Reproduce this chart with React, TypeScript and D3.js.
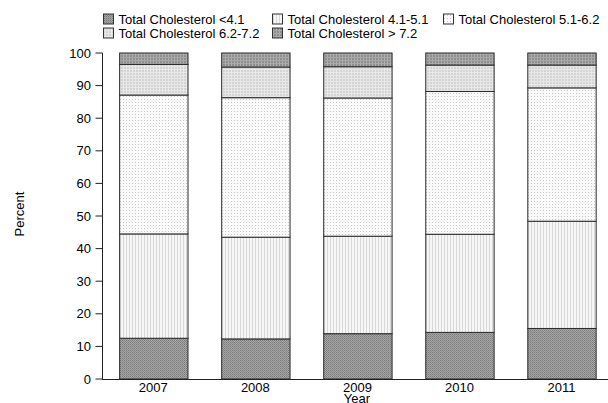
import React from "react";
import * as d3 from "d3";

const years = ["2007", "2008", "2009", "2010", "2011"];
const seriesNames = [
  "Total Cholesterol <4.1",
  "Total Cholesterol 4.1-5.1",
  "Total Cholesterol 5.1-6.2",
  "Total Cholesterol 6.2-7.2",
  "Total Cholesterol > 7.2",
];
const below41 = [12.5, 12.3, 13.9, 14.3, 15.5];
const from41to51 = [32.0, 31.2, 29.9, 30.1, 32.9];
const from51to62 = [42.6, 42.8, 42.4, 43.8, 40.9];
const from62to72 = [9.4, 9.4, 9.6, 8.1, 7.0];
const above72 = [3.5, 4.3, 4.2, 3.7, 3.7];
const yTicks = [0, 10, 20, 30, 40, 50, 60, 70, 80, 90, 100];

const seriesValues = [below41, from41to51, from51to62, from62to72, above72];

const W = 608;
const H = 403;
const FONT = "'Liberation Sans', Arial, Helvetica, sans-serif";

const x = d3
  .scaleBand<string>()
  .domain(years)
  .range([102.5, 612.3])
  .paddingInner(0.33)
  .paddingOuter(0.163);
const y = d3.scaleLinear().domain([0, 100]).range([379, 53]);

const rows = years.map((yr, i) => {
  const r: any = { year: yr };
  seriesNames.forEach((s, k) => (r[s] = seriesValues[k][i]));
  return r;
});
const stacked = d3.stack<any>().keys(seriesNames)(rows);

const legendPos = [
  { x: 103, y: 13.5 },
  { x: 272, y: 13.5 },
  { x: 443, y: 13.5 },
  { x: 103, y: 27.5 },
  { x: 272, y: 27.5 },
];

function Patterns() {
  return (
    <defs>
      <pattern id="p0" width="2" height="2" patternUnits="userSpaceOnUse">
        <rect width="2" height="2" fill="#a6a6a6" />
        <rect width="1" height="1" fill="#7a7a7a" />
        <rect x="1" y="1" width="1" height="1" fill="#8a8a8a" />
      </pattern>
      <pattern id="p1" width="3" height="3" patternUnits="userSpaceOnUse">
        <rect width="3" height="3" fill="#f6f6f6" />
        <rect width="1" height="3" fill="#d8d8d8" />
      </pattern>
      <pattern id="p2" width="3" height="3" patternUnits="userSpaceOnUse">
        <rect width="3" height="3" fill="#fafafa" />
        <rect width="1" height="1" fill="#c8c8c8" />
      </pattern>
      <pattern id="p3" width="3" height="3" patternUnits="userSpaceOnUse">
        <rect width="3" height="3" fill="#d4d4d4" />
        <rect width="1" height="3" fill="#e8e8e8" />
        <rect width="3" height="1" fill="#e8e8e8" />
      </pattern>
      <pattern id="p4" width="3" height="3" patternUnits="userSpaceOnUse">
        <rect width="3" height="3" fill="#8e8e8e" />
        <rect width="1" height="3" fill="#b0b0b0" />
        <rect width="3" height="1" fill="#a8a8a8" />
      </pattern>
    </defs>
  );
}

export default function App() {
  const bw = x.bandwidth();
  return (
    <svg
      width={W}
      height={H}
      style={{ position: "fixed", left: 0, top: 0, background: "#fff" }}
      fontFamily={FONT}
    >
      <Patterns />
      <rect width={W} height={H} fill="#fff" />
      {/* legend */}
      {seriesNames.map((s, k) => (
        <g key={s}>
          <rect
            x={legendPos[k].x + 0.5}
            y={legendPos[k].y + 0.5}
            width={10}
            height={10}
            fill={`url(#p${k})`}
            stroke="#333"
            strokeWidth={1}
          />
          <text x={legendPos[k].x + 15.5} y={legendPos[k].y + 10} fontSize={13} fill="#000">
            {s}
          </text>
        </g>
      ))}
      {/* bars */}
      {stacked.map((layer, k) => (
        <g key={layer.key}>
          {layer.map((d, i) => (
            <rect
              key={i}
              x={(x(years[i]) as number) + 0.5}
              y={y(d[1])}
              width={bw}
              height={y(d[0]) - y(d[1])}
              fill={`url(#p${k})`}
              stroke="#2a2a2a"
              strokeWidth={1}
            />
          ))}
        </g>
      ))}
      {/* y axis */}
      <line x1={102.5} x2={102.5} y1={y(100)} y2={y(0)} stroke="#222" strokeWidth={1} />
      {yTicks.map((t) => (
        <g key={t}>
          <line x1={95.5} x2={102.5} y1={y(t)} y2={y(t)} stroke="#222" strokeWidth={1} />
          <text x={91} y={y(t) + 4.5} fontSize={13} textAnchor="end" fill="#000">
            {t}
          </text>
        </g>
      ))}
      {/* x axis */}
      <line x1={102} x2={W} y1={379.5} y2={379.5} stroke="#222" strokeWidth={1} />
      {years.map((yr) => (
        <text
          key={yr}
          x={(x(yr) as number) + bw / 2}
          y={392}
          fontSize={13}
          textAnchor="middle"
          fill="#000"
        >
          {yr}
        </text>
      ))}
      <text x={357} y={402.5} fontSize={13} textAnchor="middle" fill="#000">
        Year
      </text>
      <text
        transform={`translate(23.5,214) rotate(-90)`}
        fontSize={13}
        textAnchor="middle"
        fill="#000"
      >
        Percent
      </text>
    </svg>
  );
}
